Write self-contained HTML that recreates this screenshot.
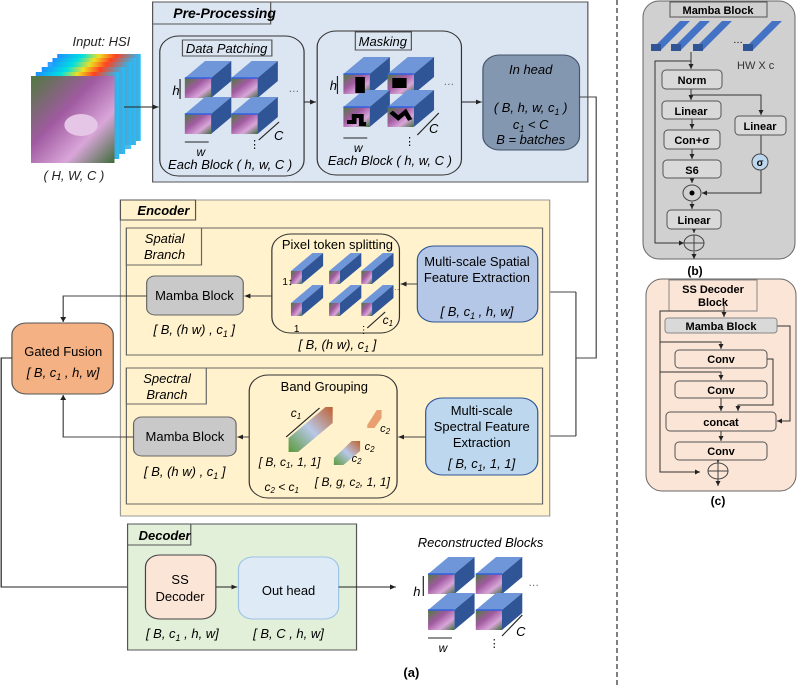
<!DOCTYPE html>
<html><head><meta charset="utf-8"><style>
html,body{margin:0;padding:0;background:#fff;}
svg{display:block;font-family:"Liberation Sans",sans-serif;}
.i{font-style:italic}
.b{font-weight:bold}
#pa text{transform-box:fill-box;transform-origin:center;transform:scaleX(0.8386);}
</style></head><body>
<svg width="797" height="687" viewBox="0 0 797 687" xmlns="http://www.w3.org/2000/svg">
<defs>
<linearGradient id="img" x1="0" y1="0" x2="1" y2="1">
<stop offset="0" stop-color="#4f7a3e"/><stop offset="0.4" stop-color="#a05aa0"/><stop offset="0.7" stop-color="#d9a6d9"/><stop offset="1" stop-color="#3e6b3a"/></linearGradient>
<linearGradient id="rain" x1="0" y1="0" x2="1" y2="0">
<stop offset="0" stop-color="#1e90ff"/><stop offset="0.3" stop-color="#00e0e0"/><stop offset="0.5" stop-color="#f0e020"/><stop offset="0.7" stop-color="#ff4020"/><stop offset="1" stop-color="#20c0ff"/></linearGradient>
<linearGradient id="bar" x1="0" y1="1" x2="1" y2="0">
<stop offset="0" stop-color="#5a9a3a"/><stop offset="0.5" stop-color="#b8c8e8"/><stop offset="1" stop-color="#c06030"/></linearGradient>
<marker id="a" markerWidth="6" markerHeight="6" refX="5" refY="3" orient="auto"><path d="M0,0.5 L5,3 L0,5.5z" fill="#222"/></marker>
<g id="cube"><polygon points="0,0 17,-17 39,-17 22,0" fill="#6f96d8"/><polygon points="22,0 39,-17 39,3 22,20" fill="#2f5597"/><rect x="0" y="0" width="22" height="20" fill="url(#img)"/><line x1="0" y1="0" x2="22" y2="0" stroke="#3060e0" stroke-width="1.5"/></g>
<g id="pc"><polygon points="0,0 18,-18 27,-18 9,0" fill="#6f96d8"/><polygon points="9,0 27,-18 27,-5 9,13" fill="#2f5597"/><rect x="0" y="0" width="9" height="13" fill="url(#img)"/></g>
</defs>

<!-- dashed separator -->
<line x1="617" y1="0" x2="617" y2="687" stroke="#000" stroke-dasharray="5,3"/>

<g id="pa" transform="scale(1.1924,1)" font-size="13">
<!-- HSI cube -->
<rect x="48" y="54" width="70" height="87" fill="url(#rain)"/>
<rect x="44" y="58" width="70" height="87" fill="url(#rain)"/>
<rect x="40" y="62" width="70" height="87" fill="url(#rain)" opacity="0.9"/>
<rect x="35" y="67" width="70" height="87" fill="url(#rain)"/>
<rect x="30" y="72" width="70" height="87" fill="url(#rain)"/>
<rect x="26" y="76" width="70" height="87" fill="url(#img)"/>
<ellipse cx="68" cy="125" rx="14" ry="11" fill="#e6c6e6"/>
<text x="85" y="46" class="i" text-anchor="middle" fill="#222">Input: HSI</text>
<text x="62" y="180" class="i" text-anchor="middle" fill="#222">( H, W, C )</text>

<!-- Pre-processing -->
<rect x="128" y="2" width="365" height="180" fill="#dce6f2" stroke="#555"/>
<rect x="128" y="2" width="99" height="22" fill="#dce6f2" stroke="#555"/>
<text x="137" y="18" font-size="14" class="i b">Pre-Processing</text>
<line x1="104" y1="107" x2="133" y2="107" stroke="#222" marker-end="url(#a)"/>
<rect x="134" y="36" width="121" height="140" rx="16" fill="#dce6f2" stroke="#333"/>
<rect x="153" y="40" width="75" height="16" fill="#dce6f2" stroke="#555"/>
<text x="190" y="53" class="i" text-anchor="middle">Data Patching</text>
<use href="#cube" x="155" y="78"/><use href="#cube" x="194" y="78"/>
<use href="#cube" x="155" y="114"/><use href="#cube" x="194" y="114"/>
<text x="241" y="92" font-size="11" fill="#666">…</text>
<text x="144" y="95" class="i">h</text>
<line x1="151" y1="79" x2="151" y2="99" stroke="#222"/>
<line x1="155" y1="142" x2="175" y2="142" stroke="#222"/>
<text x="164" y="156" font-size="12" class="i">w</text>
<line x1="217" y1="140" x2="234" y2="122" stroke="#222"/>
<text x="229" y="140" class="i">C</text>
<text x="208" y="148" font-size="11">⋮</text>
<text x="193" y="169" class="i" text-anchor="middle">Each Block ( h, w, C )</text>
<line x1="255" y1="102" x2="265" y2="102" stroke="#222" marker-end="url(#a)"/>

<rect x="266" y="31" width="121" height="144" rx="16" fill="#dce6f2" stroke="#333"/>
<rect x="298" y="32" width="47" height="18" fill="#dce6f2" stroke="#555"/>
<text x="321" y="46" class="i" text-anchor="middle">Masking</text>
<use href="#cube" x="288" y="74"/><use href="#cube" x="325" y="74"/>
<use href="#cube" x="288" y="107"/><use href="#cube" x="325" y="107"/>
<rect x="298" y="77" width="8" height="16" fill="#000"/><rect x="329" y="78" width="12" height="10" fill="#000"/>
<path d="M291,122 h6 v-6 h6 v8 h4" stroke="#000" stroke-width="4" fill="none"/>
<path d="M328,112 l6,6 l6,-6 l4,8" stroke="#000" stroke-width="4" fill="none"/>
<text x="371" y="85" font-size="11" fill="#666">…</text>
<text x="276" y="90" class="i">h</text>
<line x1="283" y1="76" x2="283" y2="94" stroke="#222"/>
<line x1="288" y1="138" x2="308" y2="138" stroke="#222"/>
<text x="296" y="152" font-size="12" class="i">w</text>
<line x1="350" y1="135" x2="368" y2="113" stroke="#222"/>
<text x="359" y="133" class="i">C</text>
<text x="338" y="145" font-size="11">⋮</text>
<text x="327" y="165" class="i" text-anchor="middle">Each Block ( h, w, C )</text>
<line x1="387" y1="102" x2="404" y2="102" stroke="#222" marker-end="url(#a)"/>

<rect x="405" y="55" width="81" height="95" rx="14" fill="#8497b0" stroke="#44546a"/>
<text x="445" y="74" class="i" text-anchor="middle">In head</text>
<text x="445" y="112" class="i" text-anchor="middle">( B, h, w, c<tspan font-size="9" dy="3">1</tspan><tspan dy="-3"> )</tspan></text>
<text x="445" y="129" class="i" text-anchor="middle">c<tspan font-size="9" dy="3">1</tspan><tspan dy="-3"> &lt; C</tspan></text>
<text x="445" y="144" class="i" text-anchor="middle">B = batches</text>

<!-- connectors from In head -->
<polyline points="486,97 500,97 500,358 483,358" fill="none" stroke="#444"/>
<line x1="483" y1="292" x2="483" y2="436" stroke="#444"/>
<line x1="483" y1="292" x2="452" y2="292" stroke="#444" marker-end="url(#a)"/>
<line x1="483" y1="436" x2="452" y2="436" stroke="#444" marker-end="url(#a)"/>

<!-- Encoder -->
<rect x="101" y="200" width="360" height="316" fill="#fff2cc" stroke="#999"/>
<rect x="101" y="200" width="63" height="20" fill="#fff2cc" stroke="#555"/>
<text x="111" y="215" class="i b">Encoder</text>
<rect x="106" y="228" width="349" height="127" fill="#fff2cc" stroke="#666"/>
<rect x="106" y="228" width="63" height="37" fill="#fff2cc" stroke="#666"/>
<text x="138" y="243" class="i" text-anchor="middle">Spatial</text>
<text x="138" y="259" class="i" text-anchor="middle">Branch</text>
<rect x="123" y="276" width="81" height="39" rx="7" fill="#c9c9c9" stroke="#666"/>
<text x="163" y="300" text-anchor="middle">Mamba Block</text>
<text x="163" y="334" class="i" text-anchor="middle">[ B, (h w) , c<tspan font-size="9" dy="3">1</tspan><tspan dy="-3"> ]</tspan></text>
<rect x="228" y="234" width="107" height="99" rx="16" fill="#fff2cc" stroke="#333"/>
<text x="283" y="249" text-anchor="middle">Pixel token splitting</text>
<use href="#pc" x="244" y="271"/><use href="#pc" x="276" y="271"/><use href="#pc" x="303" y="271"/>
<use href="#pc" x="244" y="303"/><use href="#pc" x="276" y="303"/><use href="#pc" x="303" y="303"/>
<text x="327" y="290" font-size="9" fill="#666">…</text>
<text x="236" y="285" font-size="10">1↕</text>
<text x="246" y="332" font-size="10">1</text>
<line x1="308" y1="328" x2="323" y2="312" stroke="#222"/>
<text x="320" y="324" font-size="12" class="i">c<tspan font-size="8" dy="2">1</tspan></text>
<text x="300" y="333" font-size="10">⋮</text>
<text x="283" y="349" class="i" text-anchor="middle">[ B, (h w), c<tspan font-size="9" dy="3">1</tspan><tspan dy="-3"> ]</tspan></text>
<line x1="228" y1="296" x2="205" y2="296" stroke="#444" marker-end="url(#a)"/>
<rect x="350" y="246" width="101" height="76" rx="14" fill="#b4c7e7" stroke="#2f5597"/>
<text x="400" y="266" text-anchor="middle">Multi-scale Spatial</text>
<text x="400" y="282" text-anchor="middle">Feature Extraction</text>
<text x="400" y="316" class="i" text-anchor="middle">[ B, c<tspan font-size="9" dy="3">1</tspan><tspan dy="-3"> , h, w]</tspan></text>
<line x1="350" y1="284" x2="336" y2="284" stroke="#444" marker-end="url(#a)"/>

<rect x="106" y="368" width="349" height="136" fill="#fff2cc" stroke="#666"/>
<rect x="106" y="368" width="67" height="36" fill="#fff2cc" stroke="#666"/>
<text x="140" y="383" class="i" text-anchor="middle">Spectral</text>
<text x="140" y="399" class="i" text-anchor="middle">Branch</text>
<rect x="112" y="417" width="86" height="39" rx="7" fill="#c9c9c9" stroke="#666"/>
<text x="155" y="441" text-anchor="middle">Mamba Block</text>
<text x="155" y="476" class="i" text-anchor="middle">[ B, (h w) , c<tspan font-size="9" dy="3">1</tspan><tspan dy="-3"> ]</tspan></text>
<rect x="209" y="375" width="124" height="123" rx="16" fill="#fff2cc" stroke="#333"/>
<text x="272" y="391" text-anchor="middle">Band Grouping</text>
<polygon points="242,438 273,407 279,407 279,423 250,452 242,452" fill="url(#bar)"/>
<polygon points="280,458 295,441 302,441 302,451 288,465 280,465" fill="url(#bar)"/>
<polygon points="308,425 316,410 320,410 320,418 314,428 308,428" fill="#e8a070"/>
<line x1="240" y1="437" x2="268" y2="408" stroke="#222"/>
<text x="243" y="417" font-size="12" class="i">c<tspan font-size="8" dy="2">1</tspan></text>
<text x="318" y="432" font-size="11" class="i">c<tspan font-size="8" dy="2">2</tspan></text>
<text x="305" y="450" font-size="11" class="i">c<tspan font-size="8" dy="2">2</tspan></text>
<text x="294" y="462" font-size="11" class="i">c<tspan font-size="8" dy="2">2</tspan></text>
<text x="212" y="466" font-size="12" class="i">[ B, c<tspan font-size="8" dy="2">1</tspan><tspan dy="-2">, 1, 1]</tspan></text>
<text x="219" y="491" font-size="12" class="i">c<tspan font-size="8" dy="2">2</tspan><tspan dy="-2"> &lt; c</tspan><tspan font-size="8" dy="2">1</tspan></text>
<text x="258" y="486" font-size="12" class="i">[ B, g, c<tspan font-size="8" dy="2">2</tspan><tspan dy="-2">, 1, 1]</tspan></text>
<line x1="209" y1="437" x2="199" y2="437" stroke="#444" marker-end="url(#a)"/>
<rect x="357" y="398" width="94" height="77" rx="14" fill="#bdd7ee" stroke="#2f5597"/>
<text x="404" y="415" text-anchor="middle">Multi-scale</text>
<text x="404" y="431" text-anchor="middle">Spectral Feature</text>
<text x="404" y="447" text-anchor="middle">Extraction</text>
<text x="404" y="468" class="i" text-anchor="middle">[ B, c<tspan font-size="9" dy="3">1</tspan><tspan dy="-3">, 1, 1]</tspan></text>
<line x1="357" y1="437" x2="334" y2="437" stroke="#444" marker-end="url(#a)"/>

<!-- Gated fusion -->
<polyline points="123,296 53,296 53,322" fill="none" stroke="#444" marker-end="url(#a)"/>
<polyline points="112,437 53,437 53,395" fill="none" stroke="#444" marker-end="url(#a)"/>
<rect x="10" y="323" width="85" height="71" rx="12" fill="#f4b183" stroke="#555"/>
<text x="53" y="356" text-anchor="middle">Gated Fusion</text>
<text x="53" y="377" class="i" text-anchor="middle">[ B, c<tspan font-size="9" dy="3">1</tspan><tspan dy="-3"> , h, w]</tspan></text>
<polyline points="10,358 1,358 1,587 121,587" fill="none" stroke="#222" marker-end="url(#a)"/>

<!-- Decoder -->
<rect x="107" y="524" width="192" height="126" fill="#e2efd9" stroke="#555"/>
<rect x="107" y="524" width="53" height="21" fill="#e2efd9" stroke="#555"/>
<text x="112" y="540" class="i b">Decoder</text>
<rect x="122" y="555" width="59" height="64" rx="12" fill="#fbe5d6" stroke="#444"/>
<text x="151" y="584" text-anchor="middle">SS</text>
<text x="151" y="601" text-anchor="middle">Decoder</text>
<text x="153" y="638" class="i" text-anchor="middle">[ B, c<tspan font-size="9" dy="3">1</tspan><tspan dy="-3"> , h, w]</tspan></text>
<line x1="181" y1="587" x2="199" y2="587" stroke="#222" marker-end="url(#a)"/>
<rect x="200" y="557" width="84" height="62" rx="12" fill="#deebf7" stroke="#9dc3e6"/>
<text x="242" y="595" text-anchor="middle">Out head</text>
<text x="242" y="638" class="i" text-anchor="middle">[ B, C , h, w]</text>
<line x1="284" y1="587" x2="332" y2="587" stroke="#222" marker-end="url(#a)"/>

<text x="403" y="547" class="i" text-anchor="middle">Reconstructed Blocks</text>
<use href="#cube" x="359" y="574"/><use href="#cube" x="399" y="574"/>
<use href="#cube" x="359" y="610"/><use href="#cube" x="399" y="610"/>
<text x="442" y="586" font-size="11" fill="#666">…</text>
<text x="346" y="596" class="i">h</text>
<line x1="355" y1="576" x2="355" y2="596" stroke="#222"/>
<line x1="359" y1="638" x2="379" y2="638" stroke="#222"/>
<text x="367" y="652" font-size="12" class="i">w</text>
<line x1="421" y1="636" x2="438" y2="615" stroke="#222"/>
<text x="432" y="636" class="i">C</text>
<text x="409" y="647" font-size="11">⋮</text>
<text x="345" y="677" class="b" text-anchor="middle">(a)</text>
</g>

<!-- Panel b -->
<rect x="643" y="1" width="152" height="258" rx="16" fill="#d0d0d0" stroke="#666"/>
<rect x="670" y="2" width="97" height="15" fill="#d0d0d0" stroke="#555"/>
<text x="718" y="14" font-size="11" class="b" text-anchor="middle">Mamba Block</text>
<g fill="#4472c4">
<polygon points="651,50 680,21 690,21 661,50"/><polygon points="671,50 700,21 710,21 681,50"/>
<polygon points="693,50 722,21 732,21 703,50"/><polygon points="743,50 772,21 782,21 753,50"/>
</g>
<g fill="#2f5597"><rect x="651" y="44" width="10" height="7"/><rect x="671" y="44" width="10" height="7"/><rect x="693" y="44" width="10" height="7"/><rect x="743" y="44" width="10" height="7"/></g>
<text x="733" y="43" font-size="10">…</text>
<text x="737" y="69" font-size="11" fill="#333">HW X c</text>
<g stroke="#333" fill="none">
<polyline points="691,52 691,69" marker-end="url(#a)"/>
<polyline points="691,61 655,61 655,243 684,243" marker-end="url(#a)"/>
<line x1="691" y1="89" x2="691" y2="100" marker-end="url(#a)"/>
<polyline points="691,95 761,95 761,115" marker-end="url(#a)"/>
<line x1="692" y1="119" x2="692" y2="129" marker-end="url(#a)"/>
<line x1="692" y1="149" x2="692" y2="159" marker-end="url(#a)"/>
<line x1="692" y1="178" x2="692" y2="183" marker-end="url(#a)"/>
<line x1="761" y1="135" x2="761" y2="154"/>
<polyline points="761,170 761,193 702,193" marker-end="url(#a)"/>
<line x1="692" y1="202" x2="692" y2="209" marker-end="url(#a)"/>
<line x1="694" y1="229" x2="694" y2="233" marker-end="url(#a)"/>
<line x1="694" y1="252" x2="694" y2="259" marker-end="url(#a)"/>
</g>
<g fill="#d9d9d9" stroke="#555">
<rect x="662" y="70" width="60" height="19" rx="4"/>
<rect x="662" y="101" width="59" height="18" rx="4"/>
<rect x="664" y="130" width="56" height="19" rx="4"/>
<rect x="663" y="160" width="58" height="18" rx="4"/>
<rect x="735" y="116" width="51" height="19" rx="4"/>
<rect x="667" y="210" width="54" height="19" rx="4"/>
</g>
<g font-size="11" class="b" text-anchor="middle">
<text x="692" y="84">Norm</text><text x="691" y="115">Linear</text><text x="692" y="144">Con+σ</text>
<text x="692" y="174">S6</text><text x="760" y="130">Linear</text><text x="694" y="224">Linear</text></g>
<circle cx="760" cy="162" r="8" fill="#bdd7ee" stroke="#444"/>
<text x="760" y="166" font-size="10" class="b" text-anchor="middle">σ</text>
<ellipse cx="692" cy="193" rx="9" ry="8" fill="#d0d0d0" stroke="#444"/>
<circle cx="692" cy="193" r="2.5" fill="#000"/>
<ellipse cx="694" cy="243" rx="10" ry="8" fill="#d0d0d0" stroke="#444"/>
<line x1="684" y1="243" x2="704" y2="243" stroke="#444"/><line x1="694" y1="235" x2="694" y2="251" stroke="#444"/>
<text x="695" y="275" font-size="12" class="b" text-anchor="middle">(b)</text>

<!-- Panel c -->
<rect x="646" y="279" width="150" height="212" rx="16" fill="#fbe5d6" stroke="#666"/>
<rect x="669" y="280" width="88" height="31" fill="#fbe5d6" stroke="#888"/>
<text x="713" y="293" font-size="11" class="b" text-anchor="middle">SS Decoder</text>
<text x="713" y="306" font-size="11" class="b" text-anchor="middle">Block</text>
<g stroke="#333" fill="none">
<polyline points="724,305 724,317" marker-end="url(#a)"/>
<polyline points="724,311 660,311 660,472 700,472" marker-end="url(#a)"/>
<polyline points="660,342 721,342 721,349" marker-end="url(#a)"/>
<polyline points="660,372 721,372 721,380" marker-end="url(#a)"/>
<polyline points="777,326 790,326 790,421 777,421" marker-end="url(#a)"/>
<polyline points="767,359 773,359 773,405 738,405 738,411" marker-end="url(#a)"/>
<line x1="721" y1="398" x2="721" y2="411" marker-end="url(#a)"/>
<line x1="721" y1="431" x2="721" y2="441" marker-end="url(#a)"/>
<line x1="718" y1="460" x2="718" y2="463" marker-end="url(#a)"/>
<line x1="718" y1="479" x2="718" y2="486" marker-end="url(#a)"/>
</g>
<rect x="665" y="318" width="112" height="15" rx="3" fill="#d9d9d9" stroke="#888"/>
<text x="721" y="330" font-size="11" class="b" text-anchor="middle">Mamba Block</text>
<g fill="#fbe5d6" stroke="#555">
<rect x="675" y="350" width="92" height="18" rx="4"/><rect x="675" y="381" width="92" height="17" rx="4"/>
<rect x="666" y="412" width="110" height="19" rx="4"/><rect x="675" y="442" width="92" height="18" rx="4"/></g>
<g font-size="11" class="b" text-anchor="middle">
<text x="721" y="363">Conv</text><text x="721" y="394">Conv</text><text x="721" y="426">concat</text><text x="721" y="455">Conv</text></g>
<ellipse cx="718" cy="471" rx="10" ry="8" fill="#fbe5d6" stroke="#444"/>
<line x1="708" y1="471" x2="728" y2="471" stroke="#444"/><line x1="718" y1="463" x2="718" y2="479" stroke="#444"/>
<text x="718" y="505" font-size="12" class="b" text-anchor="middle">(c)</text>
</svg>
</body></html>
